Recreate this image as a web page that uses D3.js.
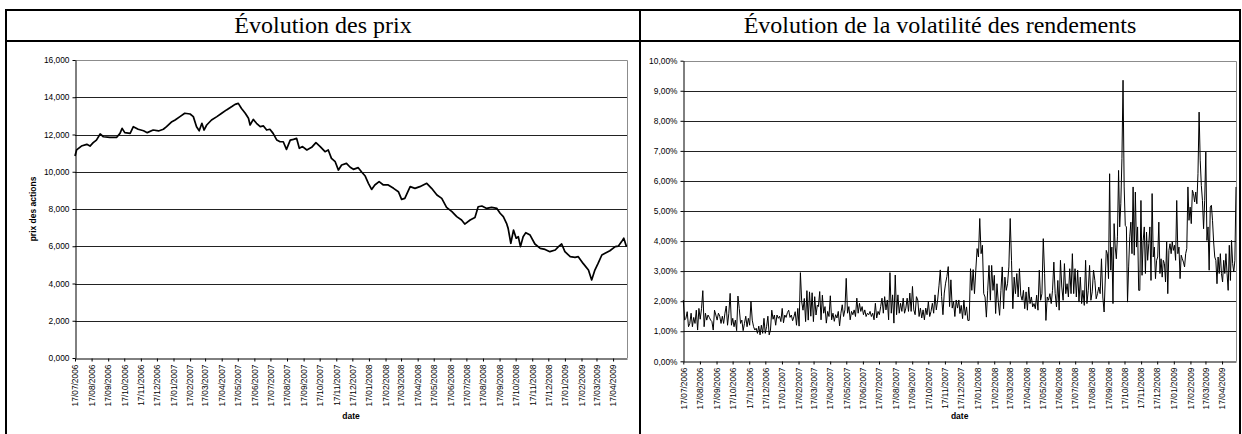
<!DOCTYPE html>
<html>
<head>
<meta charset="utf-8">
<script src="https://cdn.jsdelivr.net/npm/d3@7"></script>
<style>
  body { margin: 0; background: #fff; }
  svg { display: block; }
  .tick text { font-family: "Liberation Sans", Arial, sans-serif; font-size: 8.4px; fill: #000; }
  .title { font-family: "Liberation Serif", "Times New Roman", serif; font-size: 24px; fill: #000; }
  .axtitle { font-family: "Liberation Sans", Arial, sans-serif; font-size: 8.5px; font-weight: bold; fill: #000; }
</style>
</head>
<body>
<svg width="1242" height="434"></svg>
<script>
const svg = d3.select('svg');

// month labels on both x axes
const monthTicks = ['17/07/2006','17/08/2006','17/09/2006','17/10/2006','17/11/2006','17/12/2006',
  '17/01/2007','17/02/2007','17/03/2007','17/04/2007','17/05/2007','17/06/2007','17/07/2007',
  '17/08/2007','17/09/2007','17/10/2007','17/11/2007','17/12/2007','17/01/2008','17/02/2008',
  '17/03/2008','17/04/2008','17/05/2008','17/06/2008','17/07/2008','17/08/2008','17/09/2008',
  '17/10/2008','17/11/2008','17/12/2008','17/01/2009','17/02/2009','17/03/2009','17/04/2009'];
const firstDay = '2006-07-17';
const lastDay = '2009-05-13';

const priceTicks = [0, 2, 4, 6, 8, 10, 12, 14, 16];
const volTicks = [0, 1, 2, 3, 4, 5, 6, 7, 8, 9, 10];

// price: days after 17/07/2006 and value
const priceDays = [0,3,12,22,28,34,40,47,53,65,78,84,88,93,103,109,118,128,135,146,
  156,165,171,181,187,196,205,215,221,227,232,237,241,246,255,265,274,283,293,299,
  305,311,318,324,327,333,339,346,352,358,364,370,377,383,389,395,402,408,414,419,
  425,433,442,450,458,467,473,479,486,492,498,507,514,520,529,535,542,548,554,560,
  568,576,585,595,604,610,616,626,635,644,657,666,676,685,694,704,713,722,728,738,
  747,753,760,769,778,788,794,800,806,809,814,819,824,828,832,837,842,850,859,869,
  878,887,897,903,909,915,925,934,940,949,959,965,971,977,984,990,999,1009,1015,1021,
  1025,1030];
const priceValues = [10.85,11.17,11.38,11.47,11.38,11.56,11.70,12.03,11.88,11.85,
  11.85,12.06,12.33,12.10,12.06,12.42,12.28,12.20,12.10,12.24,
  12.19,12.28,12.42,12.69,12.78,12.96,13.14,13.10,12.96,12.42,
  12.20,12.60,12.24,12.51,12.78,12.96,13.14,13.32,13.50,13.62,
  13.67,13.40,13.14,12.87,12.51,12.81,12.60,12.42,12.46,12.24,
  12.28,12.06,11.70,11.61,11.61,11.20,11.70,11.74,11.79,11.26,
  11.35,11.17,11.31,11.56,11.35,11.08,11.17,10.72,10.54,10.09,
  10.36,10.45,10.24,10.13,10.22,10.00,9.77,9.38,9.05,9.29,
  9.47,9.29,9.29,9.11,8.93,8.52,8.57,9.20,9.11,9.20,
  9.38,9.11,8.75,8.57,8.09,7.86,7.59,7.41,7.19,7.41,
  7.55,8.12,8.16,8.03,8.09,8.03,7.77,7.59,7.23,6.96,
  6.16,6.87,6.43,6.51,5.98,6.51,6.73,6.60,6.12,5.89,
  5.83,5.71,5.80,5.98,6.12,5.71,5.44,5.40,5.44,5.08,
  4.72,4.19,4.72,5.08,5.53,5.62,5.76,5.98,6.01,6.25,
  6.43,5.98];

// volatility (%) in four stretches, points evenly spread inside each stretch
const volSpans = [['2006-07-17','2007-03-24'],['2007-03-26','2007-12-13'],
  ['2007-12-15','2008-09-09'],['2008-09-13','2009-05-13']];
const volA = [2.04,1.37,1.43,1.65,1.15,1.26,1.6,1.15,1.46,1.26,
  1.7,1.04,1.76,1.4,1.75,2.35,1.15,1.6,1.37,1.54,
  1.46,1.37,1.32,1.04,1.7,1.54,1.37,1.6,1.5,1.26,
  1.5,1.26,1.6,1.84,1.2,1.6,2.26,1.2,1.43,1.15,
  1.37,1.02,2.17,1.76,1.26,1.37,1.02,1.26,1.5,1.15,
  1.43,1.2,2.0,1.37,1.15,1.04,1.1,0.93,1.17,0.88,
  1.2,0.93,1.43,0.93,1.15,1.5,0.88,1.04,1.7,1.4,
  1.54,1.2,1.54,1.43,1.5,1.32,1.76,1.28,1.54,1.46,
  1.62,1.7,1.46,1.54,1.35,1.48,1.65,1.2,1.76,1.17,
  2.95,1.98,1.7,2.09,1.32,2.35,1.37,2.31,1.5,2.28,
  1.32,2.15,1.54,1.87];
const volB = [1.82,2.32,1.38,2.2,1.6,1.82,1.27,1.66,1.49,2.18,
  1.38,1.6,1.33,1.55,1.44,1.66,1.18,1.6,1.88,1.49,
  1.71,2.76,1.6,1.82,1.38,1.66,1.55,1.71,1.49,2.1,
  1.6,1.93,1.66,1.82,1.55,1.71,1.49,1.6,1.55,1.66,
  1.49,1.6,1.38,1.93,1.44,1.66,1.55,1.82,2.1,1.6,
  2.15,1.71,2.04,1.38,2.95,1.6,2.21,1.27,2.87,1.55,
  2.21,1.6,1.93,1.66,2.1,1.6,1.77,2.1,1.66,2.27,
  1.66,2.49,1.71,1.55,2.15,2.04,1.49,1.77,1.44,1.71,
  1.38,1.77,1.55,1.99,1.49,1.66,1.93,1.6,2.21,1.71,
  2.04,2.51,3.04,2.15,1.55,2.27,2.6,2.82,3.15,1.82,
  2.71,1.77,1.99,1.49,2.04,1.77,2.04];
const volC = [1.59,1.86,1.42,2.03,1.53,1.81,1.36,1.36,3.08,2.36,
  3.05,2.25,3.03,3.75,3.47,4.75,3.58,3.86,2.25,2.14,
  1.47,2.36,3.19,2.03,3.19,2.36,2.86,1.59,2.58,1.97,
  1.53,2.36,3.14,1.75,2.8,2.36,2.58,3.14,4.75,3.36,
  1.75,2.8,2.25,2.92,2.14,3.08,2.2,2.03,2.36,1.75,
  2.31,1.7,2.47,1.92,2.14,1.81,1.92,1.75,2.2,1.7,
  3.03,2.03,2.25,4.08,2.92,1.36,2.14,2.03,2.25,1.92,
  2.36,3.3,2.25,1.81,2.69,1.7,3.36,2.47,2.03,3.25,
  2.25,2.58,2.14,3.08,2.25,3.58,2.25,3.08,2.14,3.03,
  1.97,2.8,1.92,2.36,1.86,3.36,1.92,2.36,3.19,2.03,
  2.31,3.03,2.69,2.08,2.25,2.47,2.25,3.41,2.14,1.64];
const volD = [3.69,3.58,2.75,6.24,3.03,3.8,1.92,4.58,3.8,3.41,
  4.14,6.35,4.47,5.24,6.74,9.35,5.8,4.52,4.47,1.97,
  3.14,4.14,4.63,3.58,5.8,3.53,5.63,3.8,4.47,2.36,
  2.36,5.35,2.86,4.02,4.47,2.92,4.3,3.36,3.91,4.47,
  2.69,5.58,3.47,3.8,2.75,3.36,3.47,4.63,2.92,3.41,
  2.8,3.36,3.25,2.64,3.97,2.25,3.69,3.91,3.58,3.97,
  3.69,3.86,3.36,5.35,3.58,3.8,2.75,3.53,3.41,3.3,
  3.14,3.58,3.75,5.8,4.69,5.13,4.58,5.69,5.58,5.3,
  5.63,5.24,6.24,8.29,6.69,5.85,5.35,4.41,5.35,6.96,
  4.02,4.47,3.03,5.13,5.19,4.69,3.97,3.47,3.36,2.58,
  3.47,2.92,3.58,2.92,2.64,3.36,2.92,3.58,2.92,2.36,
  3.86,2.69,4.02,3.25,2.97,3.36,5.8];

const parseLabel = d3.timeParse('%d/%m/%Y');
const parseIso = d3.timeParse('%Y-%m-%d');
const t0 = parseIso(firstDay);
const t1 = parseIso(lastDay);
const tickDates = monthTicks.map(parseLabel);

const fr = d3.formatLocale({ decimal: ',', thousands: ' ', grouping: [3], currency: ['', ' €'] });

const priceData = priceDays.map((d, i) => ({ date: d3.timeDay.offset(t0, d), value: priceValues[i] }));

const volData = [];
[volA, volB, volC, volD].forEach((vals, k) => {
  const a = parseIso(volSpans[k][0]), b = parseIso(volSpans[k][1]);
  vals.forEach((v, i) => {
    volData.push({ date: new Date(+a + (b - a) * i / (vals.length - 1)), value: v });
  });
});

// table frame
const frame = svg.append('g').attr('stroke', '#000').attr('stroke-width', 2);
frame.append('line').attr('x1', 5).attr('x2', 1241).attr('y1', 10).attr('y2', 10);
frame.append('line').attr('x1', 5).attr('x2', 1241).attr('y1', 41).attr('y2', 41);
frame.append('line').attr('x1', 6).attr('x2', 6).attr('y1', 9).attr('y2', 434);
frame.append('line').attr('x1', 640).attr('x2', 640).attr('y1', 9).attr('y2', 434);
frame.append('line').attr('x1', 1240).attr('x2', 1240).attr('y1', 9).attr('y2', 434);

svg.append('text').attr('class', 'title').attr('x', 323).attr('y', 33)
  .attr('text-anchor', 'middle').text('Évolution des prix');
svg.append('text').attr('class', 'title').attr('x', 940).attr('y', 33)
  .attr('text-anchor', 'middle').text('Évolution de la volatilité des rendements');

function drawChart(opt) {
  const x = d3.scaleTime().domain([t0, t1]).range([opt.left, opt.right]);
  const y = d3.scaleLinear().domain(opt.domain).range([opt.bottom, opt.top]);
  const g = svg.append('g');

  // gridlines
  g.append('g').selectAll('line').data(opt.ticks.slice(1, -1)).join('line')
    .attr('x1', opt.left).attr('x2', opt.right)
    .attr('y1', d => Math.round(y(d)) + 0.5).attr('y2', d => Math.round(y(d)) + 0.5)
    .attr('stroke', '#222').attr('stroke-width', 1);

  // plot area border (top, right)
  g.append('path')
    .attr('d', `M${opt.left},${Math.round(opt.top) + 0.5}H${Math.round(opt.right) + 0.5}V${opt.bottom}`)
    .attr('fill', 'none').attr('stroke', '#8c8c8c').attr('stroke-width', 1);

  // series
  g.append('path').datum(opt.data)
    .attr('fill', 'none').attr('stroke', '#000').attr('stroke-width', opt.lineWidth)
    .attr('stroke-linejoin', 'round')
    .attr('d', d3.line().x(d => x(d.date)).y(d => y(d.value)));

  const yAxis = g.append('g')
    .attr('transform', `translate(${Math.round(opt.left) + 0.5},0)`)
    .call(d3.axisLeft(y).tickValues(opt.ticks).tickSize(3).tickSizeOuter(0).tickFormat(opt.format));
  yAxis.selectAll('path, line').attr('stroke', '#000');
  yAxis.selectAll('text').attr('font-family', null).attr('font-size', null);

  const xAxis = g.append('g')
    .attr('transform', `translate(0,${Math.round(opt.bottom) + 0.5})`)
    .call(d3.axisBottom(x).tickValues(tickDates).tickSize(3).tickSizeOuter(0)
      .tickFormat(d3.timeFormat('%d/%m/%Y')));
  xAxis.selectAll('path, line').attr('stroke', '#000');
  xAxis.selectAll('text')
    .attr('font-family', null).attr('font-size', null)
    .attr('transform', 'rotate(-90)')
    .attr('text-anchor', 'end')
    .attr('x', -6).attr('y', 0).attr('dy', '0.33em');

  g.append('text').attr('class', 'axtitle')
    .attr('x', (opt.left + opt.right) / 2).attr('y', 419)
    .attr('text-anchor', 'middle').text('date');

  if (opt.yTitle) {
    g.append('text').attr('class', 'axtitle')
      .attr('transform', `translate(${opt.yTitleX},${(opt.top + opt.bottom) / 2}) rotate(-90)`)
      .attr('text-anchor', 'middle').text(opt.yTitle);
  }
}

drawChart({
  left: 75, right: 627, top: 60, bottom: 358,
  domain: [0, 16], ticks: priceTicks, format: fr.format('.3f'),
  data: priceData, lineWidth: 1.7,
  yTitle: 'prix des actions', yTitleX: 36
});

drawChart({
  left: 683.3, right: 1236, top: 60.7, bottom: 361.3,
  domain: [0, 10], ticks: volTicks, format: d => fr.format('.2f')(d) + '%',
  data: volData, lineWidth: 1
});
</script>
</body>
</html>
